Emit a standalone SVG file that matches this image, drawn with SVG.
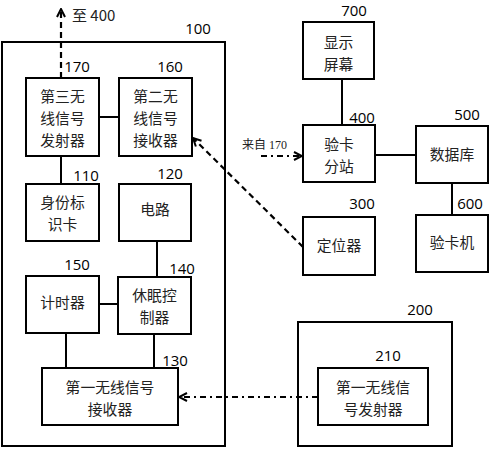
<svg xmlns="http://www.w3.org/2000/svg" width="491" height="450" viewBox="0 0 491 450">
<defs>
<style>
.b{fill:#fff;stroke:#000;stroke-width:2}
.c{fill:none;stroke:#000;stroke-width:2}
.d{fill:none;stroke:#000;stroke-width:2.2;stroke-dasharray:6 4}
.dd{fill:none;stroke:#000;stroke-width:2.2;stroke-dasharray:6 4 2 4}
.t{font-family:"Noto Sans CJK SC","Noto Sans",sans-serif;font-size:14.8px;fill:#222;text-anchor:middle;dominant-baseline:central}
.n{font-family:"Open Sans","Liberation Sans",sans-serif;font-size:15px;fill:#000;text-anchor:middle;dominant-baseline:central}
.s{font-family:"Liberation Serif","Noto Sans CJK SC",serif;font-size:12px;fill:#222;dominant-baseline:central}
</style>
<marker id="ah" viewBox="0 0 10 10" refX="9" refY="5" markerWidth="10" markerHeight="10" markerUnits="userSpaceOnUse" orient="auto">
<path d="M1,1 L9,5 L1,9" fill="none" stroke="#000" stroke-width="2"/>
</marker>
</defs>
<rect x="0" y="0" width="491" height="450" fill="#fff"/>

<g id="n100"><rect class="b" x="2" y="42" width="223" height="404"/><text class="n" x="198" y="28">100</text></g>
<g id="n170"><rect class="b" x="26" y="78" width="73" height="78"/><text class="n" x="77" y="66">170</text>
<text class="t"><tspan x="62.5" y="95">第三无</tspan><tspan x="62.5" y="117">线信号</tspan><tspan x="62.5" y="139">发射器</tspan></text></g>
<g id="n160"><rect class="b" x="119" y="78" width="73" height="78"/><text class="n" x="170" y="66">160</text>
<text class="t"><tspan x="155.5" y="95">第二无</tspan><tspan x="155.5" y="117">线信号</tspan><tspan x="155.5" y="139">接收器</tspan></text></g>
<g id="n110"><rect class="b" x="26" y="184" width="73" height="57"/><text class="n" x="86" y="175">110</text>
<text class="t"><tspan x="62.5" y="201">身份标</tspan><tspan x="62.5" y="223">识卡</tspan></text></g>
<g id="n120"><rect class="b" x="119" y="184" width="72" height="57"/><text class="n" x="170" y="173">120</text>
<text class="t" x="155" y="208">电路</text></g>
<g id="n150"><rect class="b" x="26" y="276" width="73" height="57"/><text class="n" x="77" y="264">150</text>
<text class="t" x="62.5" y="301">计时器</text></g>
<g id="n140"><rect class="b" x="118" y="277" width="73" height="57"/><text class="n" x="182" y="268">140</text>
<text class="t"><tspan x="154.5" y="294">休眠控</tspan><tspan x="154.5" y="316">制器</tspan></text></g>
<g id="n130"><rect class="b" x="42" y="368" width="136" height="57"/><text class="n" x="175" y="360">130</text>
<text class="t"><tspan x="110" y="386">第一无线信号</tspan><tspan x="110" y="408">接收器</tspan></text></g>
<g id="n200"><rect class="b" x="298" y="322" width="154" height="124"/><text class="n" x="420" y="309">200</text></g>
<g id="n210"><rect class="b" x="318" y="368" width="110" height="57"/><text class="n" x="388" y="355">210</text>
<text class="t"><tspan x="373" y="386">第一无线信</tspan><tspan x="373" y="408">号发射器</tspan></text></g>
<g id="n700"><rect class="b" x="303" y="22" width="71" height="57"/><text class="n" x="354" y="10">700</text>
<text class="t"><tspan x="338.5" y="41">显示</tspan><tspan x="338.5" y="63">屏幕</tspan></text></g>
<g id="n400"><rect class="b" x="303" y="125" width="72" height="57"/><text class="n" x="362" y="117">400</text>
<text class="t"><tspan x="339" y="143">验卡</tspan><tspan x="339" y="165">分站</tspan></text></g>
<g id="n500"><rect class="b" x="416" y="126" width="72" height="57"/><text class="n" x="467" y="114">500</text>
<text class="t" x="452" y="153">数据库</text></g>
<g id="n600"><rect class="b" x="416" y="215" width="72" height="57"/><text class="n" x="470" y="203">600</text>
<text class="t" x="452" y="241">验卡机</text></g>
<g id="n300"><rect class="b" x="303" y="217" width="72" height="58"/><text class="n" x="362" y="203">300</text>
<text class="t" x="339" y="244">定位器</text></g>

<g id="connectors">
<line class="c" x1="99" y1="117" x2="119" y2="117"/>
<line class="c" x1="61" y1="156" x2="61" y2="184"/>
<line class="c" x1="157" y1="241" x2="157" y2="277"/>
<line class="c" x1="99" y1="304" x2="118" y2="304"/>
<line class="c" x1="66" y1="333" x2="66" y2="368"/>
<line class="c" x1="154" y1="334" x2="154" y2="368"/>
<line class="c" x1="342" y1="79" x2="342" y2="125"/>
<line class="c" x1="375" y1="155" x2="416" y2="155"/>
<line class="c" x1="452" y1="183" x2="452" y2="215"/>
<line class="d" x1="61" y1="78" x2="61" y2="9" marker-end="url(#ah)"/>
<text class="t" x="72" y="14" style="text-anchor:start;font-size:15px">至 400</text>
<line class="d" x1="303" y1="247" x2="193" y2="138" marker-end="url(#ah)"/>
<line class="dd" x1="261" y1="156" x2="302" y2="156" marker-end="url(#ah)"/>
<text class="s" x="242" y="145">来自 170</text>
<line class="dd" x1="318" y1="397" x2="179" y2="397" marker-end="url(#ah)"/>
</g>
</svg>
